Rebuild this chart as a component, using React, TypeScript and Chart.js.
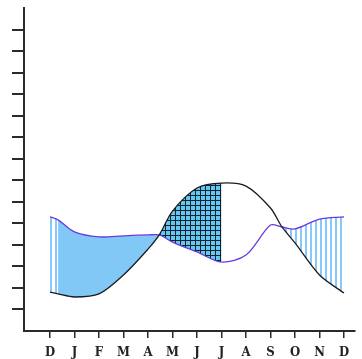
import React, { useEffect, useRef } from "react";
import { Chart, registerables } from "chart.js";

Chart.register(...registerables);

const monthLabels = ["D", "J", "F", "M", "A", "M", "J", "J", "A", "S", "O", "N", "D"];
const monthTicks = [0, 1, 2, 3, 4, 5, 6, 7, 8, 9, 10, 11, 12];
// x positions (months from December) of the readings
const xPositions = [0, 0.33, 1, 2, 3, 4, 4.46, 5, 6, 7, 8, 9, 9.47, 10, 11, 12];
const blackSeries = [1.81, 1.72, 1.58, 1.72, 2.6, 3.8, 4.46, 5.57, 6.64, 6.87, 6.73, 5.71, 4.83, 4.09, 2.6, 1.76];
const purpleSeries = [5.3, 5.16, 4.6, 4.37, 4.42, 4.46, 4.46, 4.13, 3.67, 3.2, 3.53, 4.92, 4.83, 4.74, 5.2, 5.3];
// fill style per segment (starting point index)
const segmentFill = ["stripes", "solid", "solid", "solid", "solid", "solid", "grid", "grid", "grid", "none", "none", "none", "stripes", "stripes", "stripes"];

function makeStripes(): CanvasPattern | string {
  const c = document.createElement("canvas");
  c.width = 5;
  c.height = 2;
  const g = c.getContext("2d");
  if (!g) return "#82c8f6";
  g.fillStyle = "#86c9fa";
  g.fillRect(0, 0, 2, 2);
  return g.createPattern(c, "repeat") || "#82c8f6";
}

function makeGrid(): CanvasPattern | string {
  const c = document.createElement("canvas");
  c.width = 5;
  c.height = 5;
  const g = c.getContext("2d");
  if (!g) return "#5ec4ee";
  g.fillStyle = "#62c8f2";
  g.fillRect(0, 0, 5, 5);
  g.fillStyle = "#14202a";
  g.fillRect(0, 0, 1, 5);
  g.fillRect(0, 0, 5, 1);
  return g.createPattern(c, "repeat") || "#5ec4ee";
}

export default function App() {
  const ref = useRef<HTMLCanvasElement | null>(null);

  useEffect(() => {
    if (!ref.current) return;
    const stripes = makeStripes();
    const grid = makeGrid();
    const fills: Record<string, any> = {
      stripes,
      solid: "#82c8f6",
      grid,
      none: "rgba(0,0,0,0)",
    };
    const tickColor = (ctx: any) =>
      ctx.tick && (ctx.tick.value === 0 || ctx.tick.value === 15) ? "rgba(0,0,0,0)" : "#2a2a2a";

    const chart = new Chart(ref.current, {
      type: "line",
      data: {
        datasets: [
          {
            label: "black",
            data: xPositions.map((x, i) => ({ x, y: blackSeries[i] })),
            borderColor: "#1c1c1c",
            borderWidth: 1.3,
            pointRadius: 0,
            tension: 0.3,
            fill: false,
          },
          {
            label: "purple",
            data: xPositions.map((x, i) => ({ x, y: purpleSeries[i] })),
            borderColor: "#6a3ae0",
            borderWidth: 1.3,
            pointRadius: 0,
            tension: 0.3,
            backgroundColor: "rgba(0,0,0,0)",
            fill: "-1",
            segment: {
              backgroundColor: (ctx: any) => fills[segmentFill[ctx.p0DataIndex]] ?? fills.none,
            },
          } as any,
        ],
      },
      options: {
        responsive: false,
        animation: false,
        devicePixelRatio: 1,
        layout: { padding: { left: 12, top: 8, right: 7, bottom: 0 } },
        plugins: {
          legend: { display: false },
          tooltip: { enabled: false },
        },
        scales: {
          x: {
            type: "linear",
            min: -1.061,
            max: 12.449,
            afterFit: (s: any) => {
              s.height = 28;
            },
            afterBuildTicks: (s: any) => {
              s.ticks = monthTicks.map((v) => ({ value: v }));
            },
            grid: {
              drawOnChartArea: false,
              drawTicks: true,
              tickLength: 7,
              color: "#2a2a2a",
              lineWidth: 1.5,
            },
            border: { display: true, color: "#2a2a2a", width: 2 },
            ticks: {
              autoSkip: false,
              maxRotation: 0,
              padding: 7,
              color: "#222",
              font: { family: '"DejaVu Serif Condensed", "DejaVu Serif", serif', size: 13, weight: "bold" },
              callback: (v: any) => monthLabels[Number(v)] ?? "",
            },
          },
          y: {
            type: "linear",
            min: 0,
            max: 15,
            afterFit: (s: any) => {
              s.width = 12;
            },
            grid: {
              drawOnChartArea: false,
              drawTicks: true,
              tickLength: 12,
              color: tickColor,
              lineWidth: 2,
            },
            border: { display: true, color: "#2a2a2a", width: 2 },
            ticks: { display: false, stepSize: 1 },
          },
        },
      },
    } as any);
    return () => chart.destroy();
  }, []);

  return (
    <div style={{ position: "fixed", left: 0, top: 0, width: 362, height: 359, background: "#fff" }}>
      <canvas ref={ref} width={362} height={359} style={{ width: 362, height: 359, display: "block" }} />
    </div>
  );
}
